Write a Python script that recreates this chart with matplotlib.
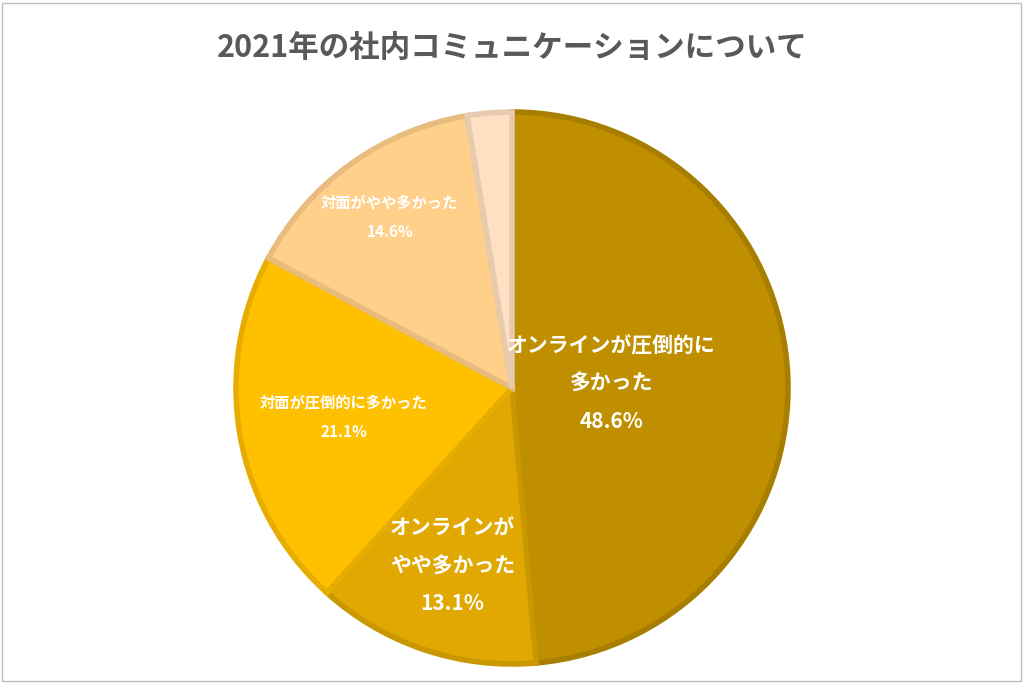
import matplotlib
matplotlib.use("Agg")
import matplotlib.pyplot as plt
import numpy as np
from matplotlib.patches import Rectangle

title = "2021年の社内コミュニケーションについて"
labels = ["オンラインが圧倒的に\n多かった", "オンラインが\nやや多かった", "対面が圧倒的に多かった", "対面がやや多かった", ""]
values = [48.6, 13.1, 21.1, 14.6, 2.6]

colors = ["#BF8F00", "#E0A800", "#FFC000", "#FFD08A", "#FFE0C2"]
edges = ["#A87E00", "#C99700", "#E6AD00", "#E8BC7E", "#E8CBAE"]
label_frac = [0.36, 0.68, 0.62, 0.76, 0]
label_size = [15, 15, 11, 11, 0]

plt.rcParams["font.family"] = "Noto Sans CJK JP"
fig = plt.figure(figsize=(10.24, 6.83), dpi=100)
ax = fig.add_axes([0, 0, 1, 1])
ax.set_xlim(0, 1024); ax.set_ylim(0, 683); ax.set_aspect("equal"); ax.axis("off")
ax.add_patch(Rectangle((2, 2), 1019, 678, fill=False, ec="#BFBFBF", lw=1))

cx, cy, R = 512, 295, 276
wedges, _ = ax.pie(values, colors=colors, startangle=90, counterclock=False,
                   center=(cx, cy), radius=R, frame=True,
                   wedgeprops=dict(linewidth=4))
for w, e in zip(wedges, edges):
    w.set_edgecolor(e)
ax.set_xlim(0, 1024); ax.set_ylim(0, 683); ax.axis("off")

total = sum(values)
cum = 0
for v, lab, f, s in zip(values, labels, label_frac, label_size):
    mid = np.deg2rad(90 - (cum + v / 2) / total * 360)
    cum += v
    if not lab:
        continue
    x = cx + f * R * np.cos(mid); y = cy + f * R * np.sin(mid)
    ax.text(x, y, f"{lab}\n{v:.1f}%", ha="center", va="center", color="white",
            fontsize=s, fontweight="bold", linespacing=2.0)

ax.text(512, 635, title, ha="center", va="center", fontsize=22, fontweight="bold", color="#595959")
fig.savefig("out.png", dpi=100)
